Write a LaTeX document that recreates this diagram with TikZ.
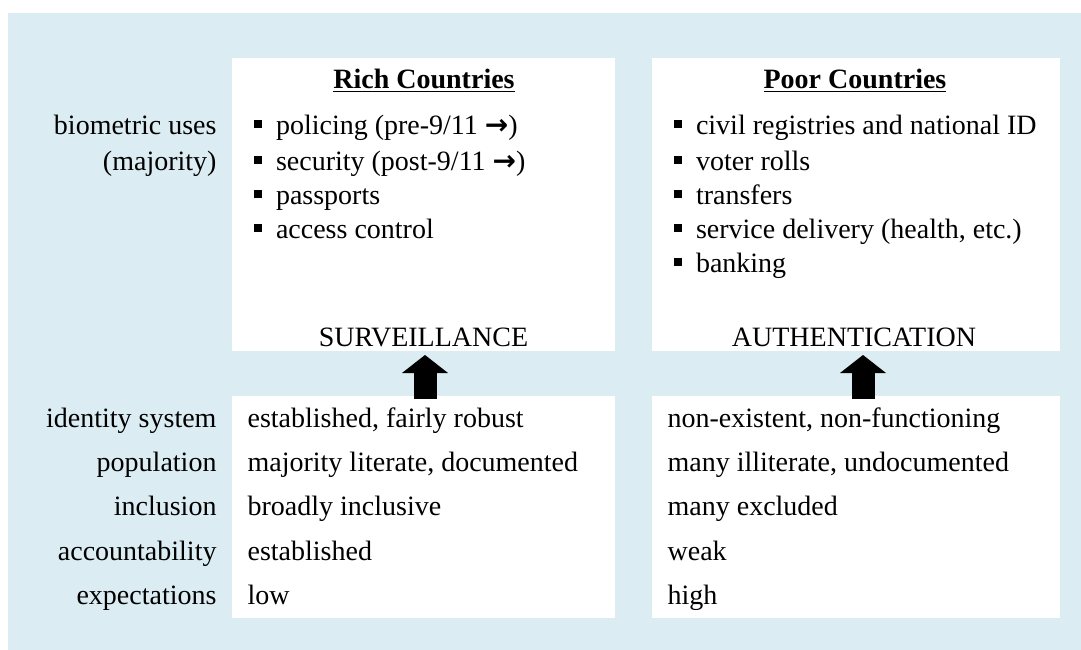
\documentclass[tikz,border=0pt]{standalone}
\usepackage{fontspec}
\setmainfont{Liberation Serif}
\newfontfamily\arrowfont{DejaVu Sans}
\usetikzlibrary{arrows.meta}
\definecolor{bgblue}{RGB}{219,236,242}
\newcommand{\rarr}{{\arrowfont\bfseries →}}
\tikzset{
  every node/.style={font=\fontsize{28}{34}\selectfont, inner sep=0pt, outer sep=0pt},
  whitebox/.style={fill=white, draw=none, anchor=north west},
  lab/.style={anchor=base east},
  item/.style={anchor=base west},
  ttl/.style={anchor=base, font=\fontsize{28}{34}\selectfont\bfseries},
  blockarrow/.style={line width=23pt, -{Triangle[width=46pt,length=18pt,line width=0pt]}},
  bul/.style={fill=black}
}
\begin{document}
\begin{tikzpicture}[x=1pt,y=-1pt]
\useasboundingbox (0,0) rectangle (1081,650);
\fill[bgblue] (8,13) rectangle (1081,650);
% white boxes
\node[whitebox, minimum width=383pt, minimum height=293pt] (rt) at (232,58) {};
\node[whitebox, minimum width=383pt, minimum height=222pt] (rb) at (232,396) {};
\node[whitebox, minimum width=408pt, minimum height=293pt] (pt) at (652,58) {};
\node[whitebox, minimum width=408pt, minimum height=222pt] (pb) at (652,396) {};
% titles
\node[ttl] (rtitle) at (424,89) {\underline{Rich Countries}};
\node[ttl] (ptitle) at (855,89) {\underline{Poor Countries}};
% left labels
\node[lab] (l1) at (216.5,135) {biometric uses};
\node[lab] (l2) at (216.5,170) {(majority)};
\node[lab] (l3) at (216.5,427) {identity system};
\node[lab] (l4) at (216.5,471) {population};
\node[lab] (l5) at (216.5,515) {inclusion};
\node[lab] (l6) at (216.5,560) {accountability};
\node[lab] (l7) at (216.5,604) {expectations};
% rich bullets
\foreach \y in {135,170,204,238} {\fill[bul] (254,\y-14.5) rectangle (262,\y-6.5);}
\node[item] (r1) at (276,135) {policing (pre-9/11 \rarr)};
\node[item] (r2) at (276,170) {security (post-9/11 \rarr)};
\node[item] (r3) at (276,204) {passports};
\node[item] (r4) at (276,238) {access control};
% poor bullets
\foreach \y in {135,170,204,238,272} {\fill[bul] (674,\y-14.5) rectangle (682,\y-6.5);}
\node[item] (p1) at (696,135) {civil registries and national ID};
\node[item] (p2) at (696,170) {voter rolls};
\node[item] (p3) at (696,204) {transfers};
\node[item] (p4) at (696,238) {service delivery (health, etc.)};
\node[item] (p5) at (696,272) {banking};
% outcomes
\node[anchor=base] (surv) at (423.5,346) {SURVEILLANCE};
\node[anchor=base] (auth) at (854,346) {AUTHENTICATION};
% arrows
\draw[blockarrow] ([xshift=1.5pt,yshift=-3pt]rb.north) -- ([xshift=1.5pt,yshift=-4pt]rt.south);
\draw[blockarrow] ([xshift=7pt,yshift=-3pt]pb.north) -- ([xshift=7pt,yshift=-4pt]pt.south);
% bottom rows rich
\node[item] (rb1) at (247.6,427) {established, fairly robust};
\node[item] (rb2) at (247.6,471) {majority literate, documented};
\node[item] (rb3) at (247.6,515) {broadly inclusive};
\node[item] (rb4) at (247.6,560) {established};
\node[item] (rb5) at (247.6,604) {low};
% bottom rows poor
\node[item] (pb1) at (667.6,427) {non-existent, non-functioning};
\node[item] (pb2) at (667.6,471) {many illiterate, undocumented};
\node[item] (pb3) at (667.6,515) {many excluded};
\node[item] (pb4) at (667.6,560) {weak};
\node[item] (pb5) at (667.6,604) {high};
\end{tikzpicture}
\end{document}
